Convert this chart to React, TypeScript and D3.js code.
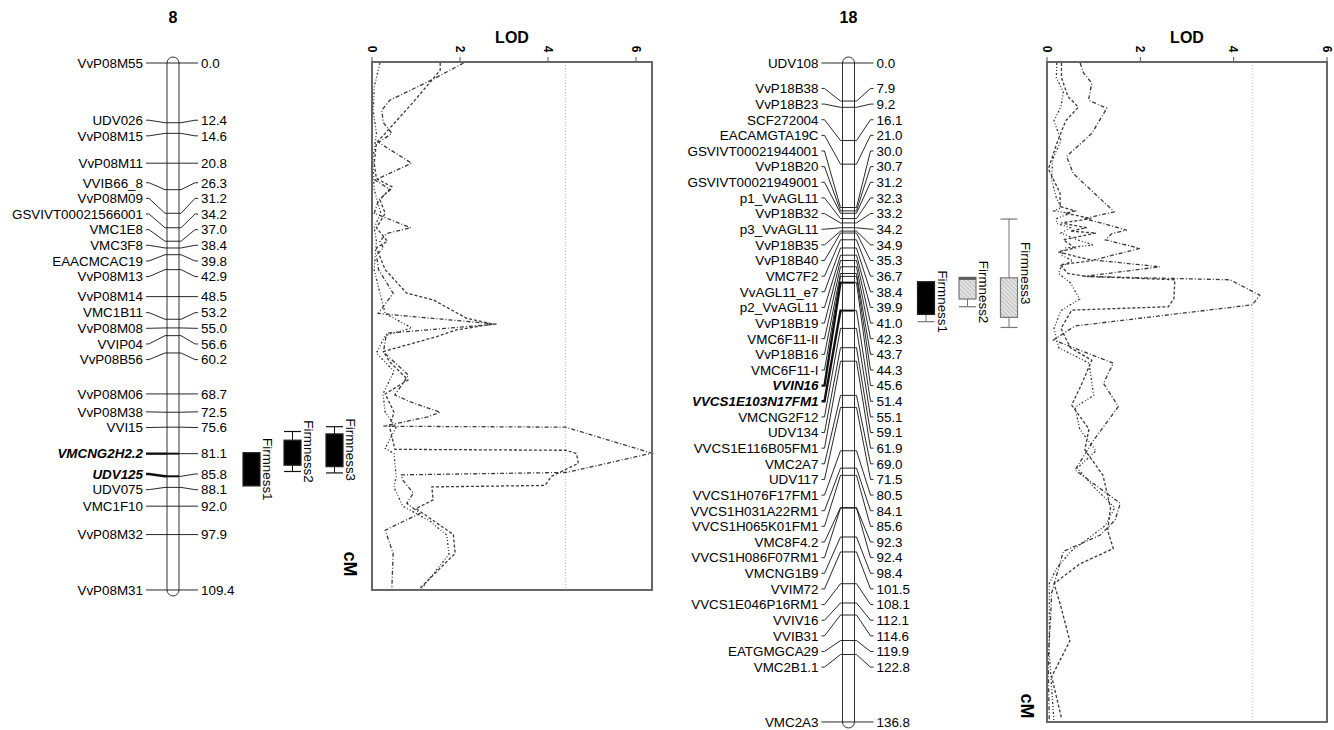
import React from 'react';
import * as d3 from 'd3';

// ---------------- DATA ----------------
const chr8Markers = ['VvP08M55','UDV026','VvP08M15','VvP08M11','VVIB66_8','VvP08M09','GSVIVT00021566001','VMC1E8','VMC3F8','EAACMCAC19','VvP08M13','VvP08M14','VMC1B11','VvP08M08','VVIP04','VvP08B56','VvP08M06','VvP08M38','VVI15','VMCNG2H2.2','UDV125','UDV075','VMC1F10','VvP08M32','VvP08M31'];
const chr8Pos = [0.0,12.4,14.6,20.8,26.3,31.2,34.2,37.0,38.4,39.8,42.9,48.5,53.2,55.0,56.6,60.2,68.7,72.5,75.6,81.1,85.8,88.1,92.0,97.9,109.4];
const chr8Bold = ['VMCNG2H2.2','UDV125'];

const chr18Markers = ['UDV108','VvP18B38','VvP18B23','SCF272004','EACAMGTA19C','GSVIVT00021944001','VvP18B20','GSVIVT00021949001','p1_VvAGL11','VvP18B32','p3_VvAGL11','VvP18B35','VvP18B40','VMC7F2','VvAGL11_e7','p2_VvAGL11','VvP18B19','VMC6F11-II','VvP18B16','VMC6F11-I','VVIN16','VVCS1E103N17FM1','VMCNG2F12','UDV134','VVCS1E116B05FM1','VMC2A7','UDV117','VVCS1H076F17FM1','VVCS1H031A22RM1','VVCS1H065K01FM1','VMC8F4.2','VVCS1H086F07RM1','VMCNG1B9','VVIM72','VVCS1E046P16RM1','VVIV16','VVIB31','EATGMGCA29','VMC2B1.1','VMC2A3'];
const chr18Pos = [0.0,7.9,9.2,16.1,21.0,30.0,30.7,31.2,32.3,33.2,34.2,34.9,35.3,36.7,38.4,39.9,41.0,42.3,43.7,44.3,45.6,51.4,55.1,59.1,61.9,69.0,71.5,80.5,84.1,85.6,92.3,92.4,98.4,101.5,108.1,112.1,114.6,119.9,122.8,136.8];
const chr18Bold = ['VVIN16','VVCS1E103N17FM1'];

const lodTicks = [0, 2, 4, 6];
const lodThreshold = 4.4;

// LOD profiles: [cM, LOD]
const chr8Lod1 = [[0,2.08],[3.5,1.36],[7.7,0.41],[9.8,0.22],[12.4,0.26],[14.6,0.45],[16.5,0.15],[20.8,0.9],[24.3,0.07],[26.3,0.42],[28.4,0.15],[31.2,0.05],[34.2,0.88],[35.4,0.33],[37,0.18],[38.4,0.26],[39.8,0.1],[42.9,0.15],[47.8,0.48],[52,0.14],[54.2,2.83],[56.1,0.33],[60,0.26],[64.8,0.83],[68.9,0.52],[70.3,0.86],[72.5,1.55],[73.5,1.25],[75.4,0.26],[75.6,4.4],[81.0,6.36],[85.0,4.42],[85.5,0.67],[86.6,0.7],[89.3,0.94],[91.4,0.79],[93.5,1.09],[97,0.3],[101.8,0.48],[109.4,0.45]];
const chr8Lod2 = [[0,1.55],[1.5,1.55],[8,0.95],[14.6,0.3],[16.6,0.1],[20.8,0.05],[24,0.1],[25.7,0.45],[28.4,0.18],[31.2,0.3],[34.2,0.1],[37,0.35],[38.4,0.1],[42.9,0.3],[47.8,0.79],[49.2,1.4],[53,2.15],[54.2,2.75],[55.4,1.92],[56.8,1.47],[59.9,0.26],[62,0.4],[65.8,0.82],[68.7,0.3],[72.5,0.5],[75.6,0.4],[80.2,0.52],[80.4,4.42],[81.1,4.65],[83.1,4.69],[85.8,4.08],[87.7,3.93],[88.0,1.36],[90.7,1.39],[92.5,1.0],[97.9,1.85],[101.8,1.89],[109.4,1.05]];
const chr8Lod3 = [[0,0.18],[5,0.05],[10,0.03],[14.6,0.1],[20,0.02],[26.3,0.05],[31.2,0.2],[34.2,0.05],[37,0.1],[42.9,0.05],[48.5,0.2],[52,0.3],[55,0.9],[56.6,0.3],[60.2,0.1],[64,0.5],[68.7,0.25],[72.5,0.3],[75.6,0.55],[80,0.3],[81.1,0.5],[85.8,0.55],[88.1,0.5],[92,0.7],[95,1.3],[98,1.7],[102,1.75],[109.4,1.1]];

const chr18Lod1 = [[0,0.71],[2,0.78],[4.2,0.96],[7.7,0.89],[9.4,1.28],[14.6,0.96],[19.4,0.42],[22.9,0.56],[30.9,1.44],[32.3,0.8],[33.2,1.15],[34.7,1.71],[35.4,1.39],[36.7,1.25],[38.5,1.99],[40.9,1.0],[42.3,2.42],[43.7,1.3],[44.3,0.78],[45.0,3.92],[48.2,4.56],[50.2,4.4],[54.6,0.6],[57.5,0.14],[62.3,1.42],[66.5,1.21],[71.3,1.53],[78.3,1.0],[84.5,0.6],[91.4,1.57],[94.9,1.46],[98,1.14],[101.4,0.35],[110,0.1],[114.6,0.08],[122.8,0.03],[127.4,0.03],[136.8,0.05]];
const chr18Lod2 = [[0,0.31],[3,0.31],[7,0.45],[8.4,0.6],[9.2,0.67],[12,0.4],[16.7,0.21],[22,0.03],[27,0.28],[29.8,0.28],[30.7,0.6],[31.2,0.4],[32.3,0.95],[33.2,0.3],[34.2,0.85],[34.9,0.5],[35.3,1.05],[36.7,0.35],[38.4,0.6],[39.2,0.24],[40,0.55],[41,0.99],[41.9,0.28],[43.7,0.45],[44.3,0.85],[45.0,2.74],[48.9,2.72],[50.6,2.6],[51.3,0.53],[55.1,0.3],[59.1,0.5],[61.7,0.96],[66.5,0.75],[71,0.53],[76,0.9],[80.3,0.81],[85.6,1.2],[92.3,1.36],[97,1.3],[100.8,1.42],[104,0.7],[108.1,0.15],[112.2,0.28],[120,0.49],[127.4,0.1],[136,0.31]];
const chr18Lod3 = [[0,0.21],[3,0.2],[6,0.35],[9,0.3],[12,0.15],[16.1,0.3],[20,0.12],[24.3,0.1],[28,0.2],[30,0.3],[30.7,0.15],[31.2,0.5],[32.3,0.2],[33.3,0.21],[34.2,0.5],[35.3,0.3],[36.7,0.65],[37.8,1.0],[38.4,0.4],[39.9,0.3],[41,0.55],[42.3,0.3],[43.7,0.25],[45.6,0.5],[49,0.7],[51.4,0.3],[55.1,0.15],[59.1,0.25],[62.3,0.9],[69,1.0],[71.5,0.6],[76,0.7],[80.5,1.05],[84.1,0.65],[88,1.0],[92.3,1.45],[96,1.25],[101.5,0.5],[105,0.2],[108,0.05],[114.6,0.05],[122.8,0.05],[136.8,0.15]];

// QTL intervals (cM): whisker low, box low, box high, whisker high
const qtlNames = ['Firmness1','Firmness2','Firmness3'];
const chr8QtlWhiskLo = [80.9, 76.5, 75.5];
const chr8QtlBoxLo = [80.9, 78.3, 77.0];
const chr8QtlBoxHi = [87.8, 83.5, 83.8];
const chr8QtlWhiskHi = [87.8, 84.8, 85.1];
const chr8QtlFill = ['solid','solid','solid'];
const chr18QtlWhiskLo = [45.4, 44.5, 32.4];
const chr18QtlBoxLo = [45.4, 44.5, 44.6];
const chr18QtlBoxHi = [52.2, 49.0, 52.8];
const chr18QtlWhiskHi = [53.7, 50.6, 54.9];
const chr18QtlFill = ['solid','hatch','hatch'];

// ---------------- HELPERS ----------------
const FONT = '"Liberation Sans", Arial, Helvetica, sans-serif';
const PX_PER_CM = 4.817;
const TOP = 63;

// label de-overlap: clusters centred on the midpoint of their end labels,
// merging the most overlapping neighbours first
function layoutLabels(ideal: number[], gap: number): number[] {
  let clusters = ideal.map((_, i) => ({ s: i, e: i }));
  const span = (c: { s: number; e: number }) => {
    const mid = (ideal[c.s] + ideal[c.e]) / 2;
    const n = c.e - c.s;
    return { top: mid - (n * gap) / 2, bottom: mid + (n * gap) / 2 };
  };
  for (;;) {
    let best = -1;
    let bestOv = 0.01;
    for (let k = 0; k < clusters.length - 1; k++) {
      const ov = gap - (span(clusters[k + 1]).top - span(clusters[k]).bottom);
      if (ov > bestOv) { bestOv = ov; best = k; }
    }
    if (best < 0) break;
    clusters.splice(best, 2, { s: clusters[best].s, e: clusters[best + 1].e });
  }
  const out: number[] = new Array(ideal.length);
  clusters.forEach((c) => {
    const { top } = span(c);
    for (let i = c.s; i <= c.e; i++) out[i] = top + (i - c.s) * gap;
  });
  return out;
}

type ChromProps = {
  title: string; cx: number; markers: string[]; pos: number[]; bold: string[];
  y: d3.ScaleLinear<number, number>;
  qLo: number[]; bLo: number[]; bHi: number[]; qHi: number[]; fills: string[];
  qtlOffsets: number[]; outline: string;
};

function Chromosome(p: ChromProps) {
  const half = 6;
  const labelGap = 30;
  const numGap = 28;
  const ideal = p.pos.map((v) => p.y(v));
  const ly = layoutLabels(ideal, 15.64);
  const [d0, d1] = p.y.domain();
  const top = p.y(d0) - 6;
  const bot = p.y(d1) + 6;
  const boxW = 17;
  return (
    <g fontFamily={FONT}>
      <text x={p.cx} y={23} textAnchor="middle" fontSize={16} fontWeight="bold">{p.title}</text>
      <rect x={p.cx - half} y={top} width={half * 2} height={bot - top} rx={half} ry={half} fill="#fff" stroke="#333" strokeWidth={1} />
      {p.markers.map((m, i) => {
        const isB = p.bold.includes(m);
        const sw = isB ? 2.4 : 0.9;
        const ym = ideal[i];
        const yl = ly[i];
        const lx = p.cx - labelGap;
        const rx = p.cx + numGap;
        return (
          <g key={m}>
            <path d={`M${lx + 3},${yl}L${lx + 6},${yl}L${p.cx - half - 2},${ym}L${p.cx - half},${ym}`} fill="none" stroke="#111" strokeWidth={sw} />
            <line x1={p.cx - half} x2={p.cx + half} y1={ym} y2={ym} stroke="#111" strokeWidth={isB ? 2 : 0.9} />
            <path d={`M${p.cx + half},${ym}L${p.cx + half + 2},${ym}L${rx - 6},${yl}L${rx - 3},${yl}`} fill="none" stroke="#111" strokeWidth={0.9} />
            <text x={lx} y={yl} dy="0.36em" textAnchor="end" fontSize={13.4} fontWeight={isB ? 'bold' : 'normal'} fontStyle={isB ? 'italic' : 'normal'}>{m}</text>
            <text x={rx} y={yl} dy="0.36em" fontSize={13.4}>{p.pos[i].toFixed(1)}</text>
          </g>
        );
      })}
      {qtlNames.map((n, i) => {
        const x0 = p.cx + p.qtlOffsets[i];
        const xc = x0 + boxW / 2;
        const yb0 = p.y(p.bLo[i]);
        const yb1 = p.y(p.bHi[i]);
        const yw0 = p.y(p.qLo[i]);
        const yw1 = p.y(p.qHi[i]);
        const solid = p.fills[i] === 'solid';
        const st = p.outline;
        const labelY = (yw0 + yw1) / 2;
        return (
          <g key={n}>
            {yw0 < yb0 && <line x1={xc} x2={xc} y1={yw0} y2={yb0} stroke={st} strokeWidth={1} />}
            {yw1 > yb1 && <line x1={xc} x2={xc} y1={yb1} y2={yw1} stroke={st} strokeWidth={1} />}
            {yw0 < yb0 && <line x1={x0} x2={x0 + boxW} y1={yw0} y2={yw0} stroke={st} strokeWidth={1.2} />}
            {yw1 > yb1 && <line x1={x0} x2={x0 + boxW} y1={yw1} y2={yw1} stroke={st} strokeWidth={1.2} />}
            <rect x={x0} y={yb0} width={boxW} height={yb1 - yb0} fill={solid ? '#000' : 'url(#hatch)'} stroke={solid ? '#222' : st} strokeWidth={1.2} />
            {!solid && yw0 === yb0 && <rect x={x0} y={yb0} width={boxW} height={2.5} fill="#555" />}
            <text transform={`translate(${x0 + boxW + 3},${labelY}) rotate(90)`} textAnchor="middle" fontSize={13.4}>{n}</text>
          </g>
        );
      })}
    </g>
  );
}

type LodProps = {
  x0: number; x1: number; lodMax: number; y: d3.ScaleLinear<number, number>;
  series: number[][][]; cmX: number; cmY: number;
};

const dashes = ['4,2,1,2', '3,2', '2,2,1,2,1,2'];

function LodPanel(p: LodProps) {
  const x = d3.scaleLinear().domain([0, p.lodMax]).range([p.x0, p.x1]);
  const [d0, d1] = p.y.domain();
  const yt = p.y(d0) - 1;
  const yb = p.y(d1);
  const line = d3.line<number[]>().x((d) => x(d[1])).y((d) => p.y(d[0]));
  return (
    <g fontFamily={FONT}>
      <text x={(p.x0 + p.x1) / 2} y={43} textAnchor="middle" fontSize={16} fontWeight="bold">LOD</text>
      {lodTicks.filter((t) => x(t) <= p.x1 + 0.5).map((t) => (
        <g key={t}>
          <line x1={x(t)} x2={x(t)} y1={yt - 5} y2={yt} stroke="#555" strokeWidth={1} />
          <text transform={`translate(${x(t)},${yt - 13}) rotate(90)`} textAnchor="middle" dy="0.35em" fontSize={12} fontWeight="bold">{t}</text>
        </g>
      ))}
      <line x1={x(lodThreshold)} x2={x(lodThreshold)} y1={yt} y2={yb} stroke="#bbb" strokeWidth={1} strokeDasharray="1,2" />
      {p.series.map((s, i) => (
        <path key={i} d={line(s) || ''} fill="none" stroke="#3a3a3a" strokeWidth={1.3} strokeDasharray={dashes[i]} />
      ))}
      <rect x={p.x0} y={yt} width={p.x1 - p.x0} height={yb - yt} fill="none" stroke="#666" strokeWidth={2} />
      <text transform={`translate(${p.cmX},${p.cmY}) rotate(90)`} textAnchor="middle" dy="0.35em" fontSize={18} fontWeight="bold">cM</text>
    </g>
  );
}

export default function App() {
  const y8 = d3.scaleLinear().domain([0, 109.4]).range([TOP, TOP + 109.4 * PX_PER_CM]);
  const y18 = d3.scaleLinear().domain([0, 136.8]).range([TOP, TOP + 136.8 * PX_PER_CM]);
  return (
    <svg width={1334} height={730} style={{ position: 'absolute', left: 0, top: 0, background: '#fff' }}>
      <defs>
        <pattern id="hatch" width="3" height="3" patternUnits="userSpaceOnUse" patternTransform="rotate(-45)">
          <rect width="3" height="3" fill="#e4e4e4" />
          <line x1="0" y1="0" x2="0" y2="3" stroke="#9a9a9a" strokeWidth="1" />
        </pattern>
      </defs>
      <Chromosome title="8" cx={173} markers={chr8Markers} pos={chr8Pos} bold={chr8Bold} y={y8}
        qLo={chr8QtlWhiskLo} bLo={chr8QtlBoxLo} bHi={chr8QtlBoxHi} qHi={chr8QtlWhiskHi} fills={chr8QtlFill}
        qtlOffsets={[70, 111, 153]} outline="#111" />
      <LodPanel x0={372} x1={652} lodMax={6.364} y={y8} series={[chr8Lod1, chr8Lod2, chr8Lod3]} cmX={350} cmY={564} />
      <Chromosome title="18" cx={848.5} markers={chr18Markers} pos={chr18Pos} bold={chr18Bold} y={y18}
        qLo={chr18QtlWhiskLo} bLo={chr18QtlBoxLo} bHi={chr18QtlBoxHi} qHi={chr18QtlWhiskHi} fills={chr18QtlFill}
        qtlOffsets={[69, 110.5, 152]} outline="#777" />
      <LodPanel x0={1047} x1={1327} lodMax={6} y={y18} series={[chr18Lod1, chr18Lod2, chr18Lod3]} cmX={1027} cmY={706} />
    </svg>
  );
}
